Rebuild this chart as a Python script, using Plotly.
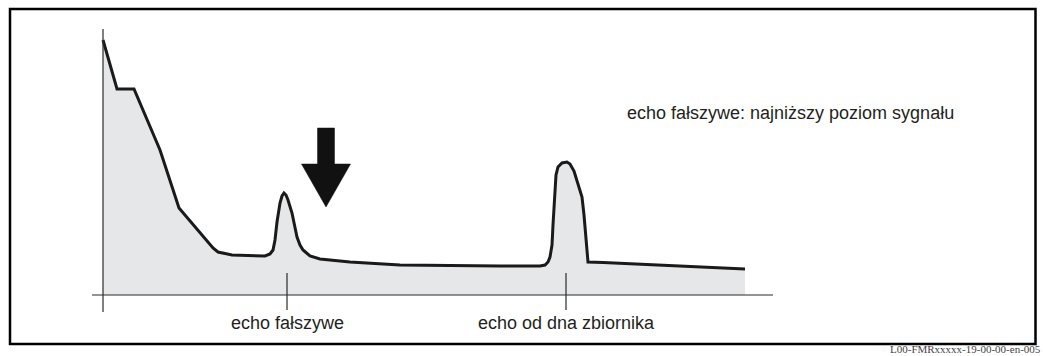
import plotly.graph_objects as go

# Echo envelope: distance along the measuring path vs. echo amplitude
distance = [0, 14, 31, 57, 76, 110, 115, 119, 129, 162, 167, 170, 172, 174, 177,
            179, 181, 183, 185, 189, 192, 194, 197, 200, 207, 217, 247, 297, 397,
            437, 442, 445, 447, 449, 450, 451, 452, 453, 455, 459, 464, 467, 471,
            475, 479, 481, 483, 484, 485, 500, 642]
amplitude = [255, 206, 206, 145, 87, 47, 43, 42, 40, 39, 41, 45, 55, 73, 92,
             99, 102, 100, 95, 82, 67, 58, 50, 45, 39, 36, 33, 30, 29,
             29, 30, 33, 38, 50, 70, 90, 110, 120, 128, 132, 133, 131, 124,
             112, 98, 80, 55, 40, 33, 32.5, 26]

# Marked echo positions and their captions
echo_positions = [184, 463]
echo_labels = ["echo fałszywe", "echo od dna zbiornika"]
note_text = "echo fałszywe: najniższy poziom sygnału"
doc_code = "L00-FMRxxxxx-19-00-00-en-005"

W, H = 1043, 356
X0, Y0 = 103, 295          # pixel position of the axes origin
x_range = [-X0, W - X0]
y_range = [Y0 - H, Y0]

LINE = "#1a1a1a"
AXIS = "#2b2b2b"
TEXT = "#231f20"
FONT = "Liberation Sans, Arial, sans-serif"

fig = go.Figure()
fig.add_trace(go.Scatter(
    x=distance, y=amplitude, mode="lines",
    line=dict(color=LINE, width=3), fill="tozeroy", fillcolor="#e6e7e8",
    hoverinfo="skip",
))

shapes = []
# outer frame
shapes.append(dict(type="rect", xref="x", yref="y", x0=-93, x1=932.5, y0=286, y1=-49,
                   line=dict(color="black", width=2.5), fillcolor="rgba(0,0,0,0)", layer="above"))
# axes
shapes.append(dict(type="line", xref="x", yref="y", x0=-11, x1=670, y0=0, y1=0,
                   line=dict(color=AXIS, width=1.2), layer="above"))
shapes.append(dict(type="line", xref="x", yref="y", x0=0, x1=0, y0=-17, y1=266,
                   line=dict(color=AXIS, width=1.2), layer="above"))
# echo markers crossing the baseline
for p in echo_positions:
    shapes.append(dict(type="line", xref="x", yref="y", x0=p, x1=p, y0=-15, y1=22,
                       line=dict(color=AXIS, width=1.2), layer="above"))

# block arrow pointing down at the false-echo region
tip_x, tip_y = 223, 88
head_half, head_h = 24.5, 43
shaft_half, shaft_top = 8.5, 167
ax = [tip_x, tip_x - head_half, tip_x - shaft_half, tip_x - shaft_half,
      tip_x + shaft_half, tip_x + shaft_half, tip_x + head_half]
ay = [tip_y, tip_y + head_h, tip_y + head_h, shaft_top,
      shaft_top, tip_y + head_h, tip_y + head_h]
path = "M " + " L ".join(f"{a},{b}" for a, b in zip(ax, ay)) + " Z"
shapes.append(dict(type="path", xref="x", yref="y", path=path,
                   fillcolor="#111111", line=dict(color="#111111", width=0.5)))

annotations = []
for p, lab in zip(echo_positions, echo_labels):
    annotations.append(dict(x=p, y=-28, xref="x", yref="y", text=lab, showarrow=False,
                            xanchor="center", yanchor="middle",
                            font=dict(family=FONT, size=18, color=TEXT)))
annotations.append(dict(x=522, y=182, xref="x", yref="y", text=note_text, showarrow=False,
                        xanchor="left", yanchor="middle",
                        font=dict(family=FONT, size=18, color=TEXT)))
annotations.append(dict(x=940, y=-54, xref="x", yref="y", text=doc_code, showarrow=False,
                        xanchor="right", yanchor="middle",
                        font=dict(family="Liberation Serif, Times New Roman, serif", size=11, color="#444444")))

fig.update_layout(
    width=W, height=H, margin=dict(l=0, r=0, t=0, b=0),
    paper_bgcolor="white", plot_bgcolor="white", showlegend=False,
    xaxis=dict(range=x_range, visible=False, fixedrange=True),
    yaxis=dict(range=y_range, visible=False, fixedrange=True),
    shapes=shapes, annotations=annotations,
)

fig.write_html("out.html", config={"displayModeBar": False})
